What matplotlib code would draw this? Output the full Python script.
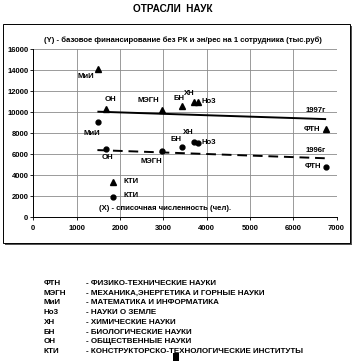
import matplotlib
matplotlib.use("Agg")
import matplotlib.pyplot as plt
from matplotlib.patches import Rectangle

plt.rcParams['font.family'] = ['Liberation Sans', 'DejaVu Sans']

# branches of science
names = ['ФТН', 'МЭГН', 'МиИ', 'Но3', 'ХН', 'БН', 'ОН', 'КТИ']
staff = [6760, 2970, 1490, 3800, 3720, 3440, 1680, 1850]     # X
fin_1997 = [8400, 10200, 14100, 11000, 11000, 10600, 10300, 3400]
fin_1996 = [4800, 6300, 9100, 7050, 7150, 6650, 6500, 1950]

# trend lines (endpoints)
trend_x = [1480, 6760]
trend_1997 = [10060, 9350]
trend_1996 = [6400, 5620]

legend_abbr = ['ФТН', 'МЭГН', 'МиИ', 'Но3', 'ХН', 'БН', 'ОН', 'КТИ']
legend_desc = ['- ФИЗИКО-ТЕХНИЧЕСКИЕ НАУКИ',
               '- МЕХАНИКА,ЭНЕРГЕТИКА И ГОРНЫЕ НАУКИ',
               '- МАТЕМАТИКА И ИНФОРМАТИКА',
               '- НАУКИ О ЗЕМЛЕ',
               '- ХИМИЧЕСКИЕ НАУКИ',
               '- БИОЛОГИЧЕСКИЕ НАУКИ',
               '- ОБЩЕСТВЕННЫЕ НАУКИ',
               '- КОНСТРУКТОРСКО-ТЕХНОЛОГИЧЕСКИЕ ИНСТИТУТЫ']

# label offsets in pixels (dx, dy, ha)
off_1997 = {'ФТН': (-6, 0, 'right'), 'МЭГН': (-14, 10, 'center'), 'МиИ': (-12, -7, 'center'),
            'Но3': (4, 0, 'left'), 'ХН': (-5, 8, 'center'), 'БН': (-3, 7, 'center'),
            'ОН': (4, 10, 'center'), 'КТИ': (10, 0, 'left')}
off_1996 = {'ФТН': (-5, 0, 'right'), 'МЭГН': (-11, -10, 'center'), 'МиИ': (-6, -12, 'center'),
            'Но3': (4, 1, 'left'), 'ХН': (-6, 10, 'center'), 'БН': (-6, 8, 'center'),
            'ОН': (1, -8, 'center'), 'КТИ': (10, 1, 'left')}

W, H = 353, 361
fig = plt.figure(figsize=(W / 100, H / 100), dpi=100)
fig.patch.set_facecolor('white')

# outer frame with a bit of shadow
fig.patches.append(Rectangle((5 / W, 1 - 245 / H), 347 / W, 219 / H, transform=fig.transFigure,
                             facecolor='#555555', edgecolor='none', zorder=-3))
fig.patches.append(Rectangle((3 / W, 1 - 243 / H), 347 / W, 219 / H, transform=fig.transFigure,
                             facecolor='white', edgecolor='black', linewidth=0.7, zorder=-2))

ax = fig.add_axes([33.3 / W, 1 - 217.3 / H, 303.2 / W, 168 / H])
ax.set_facecolor('none')
ax.set_xlim(0, 7000)
ax.set_ylim(0, 16000)
ax.set_xticks(range(0, 7001, 1000))
ax.set_yticks(range(0, 16001, 2000))
ax.grid(True, color='#8a8a8a', linewidth=0.6)
for s in ['top', 'right']:
    ax.spines[s].set_visible(False)
for s in ['left', 'bottom']:
    ax.spines[s].set_linewidth(0.7)
ax.tick_params(length=2, width=0.6, pad=1.5, labelsize=5.5)
ax.tick_params(axis='x', pad=3.5)
for lab in ax.get_xticklabels() + ax.get_yticklabels():
    lab.set_fontweight('bold')

ax.plot(trend_x, trend_1997, color='black', linewidth=1.4, solid_capstyle='butt', clip_on=False)
ax.plot(trend_x, trend_1996, color='black', linewidth=1.4, dashes=(5, 3), clip_on=False)

ax.plot(staff, fin_1997, linestyle='none', marker='^', markersize=4, color='black', clip_on=False)
ax.plot(staff, fin_1996, linestyle='none', marker='o', markersize=3.5, color='black', clip_on=False)

for i, n in enumerate(names):
    dx, dy, ha = off_1997[n]
    ax.annotate(n, (staff[i], fin_1997[i]), xytext=(dx, dy), textcoords='offset pixels',
                ha=ha, va='center', fontsize=5.6, fontweight='bold')
    dx, dy, ha = off_1996[n]
    ax.annotate(n, (staff[i], fin_1996[i]), xytext=(dx, dy), textcoords='offset pixels',
                ha=ha, va='center', fontsize=5.6, fontweight='bold')

ax.annotate('1997г', (trend_x[1], trend_1997[1]), xytext=(0, 9), textcoords='offset pixels',
            ha='right', va='center', fontsize=5.6, fontweight='bold')
ax.annotate('1996г', (trend_x[1], trend_1996[1]), xytext=(0, 8), textcoords='offset pixels',
            ha='right', va='center', fontsize=5.6, fontweight='bold')

fig.text(182.5 / W, 1 - 40 / H,
         '(Y) - базовое финансирование без РК и эн/рес на 1 сотрудника (тыс.руб)',
         ha='center', va='center', fontsize=5.55, fontweight='bold')
fig.text(165 / W, 1 - 208 / H, '(X) - списочная численность (чел).',
         ha='center', va='center', fontsize=5.6, fontweight='bold')

fig.text(172.5 / W, 1 - 9.5 / H, 'ОТРАСЛИ  НАУК', ha='center', va='center',
         fontsize=7.2, fontweight='bold')

for i in range(len(legend_abbr)):
    y = 1 - (283.3 + i * 9.77) / H
    fig.text(44 / W, y, legend_abbr[i], ha='left', va='center', fontsize=5.8, fontweight='bold')
    fig.text(86 / W, y, legend_desc[i], ha='left', va='center', fontsize=5.8, fontweight='bold')

# small black mark from the scan
fig.patches.append(Rectangle((173 / W, 0), 6 / W, 8 / H, transform=fig.transFigure,
                             facecolor='black', edgecolor='none'))

fig.savefig('out.png', dpi=100)
